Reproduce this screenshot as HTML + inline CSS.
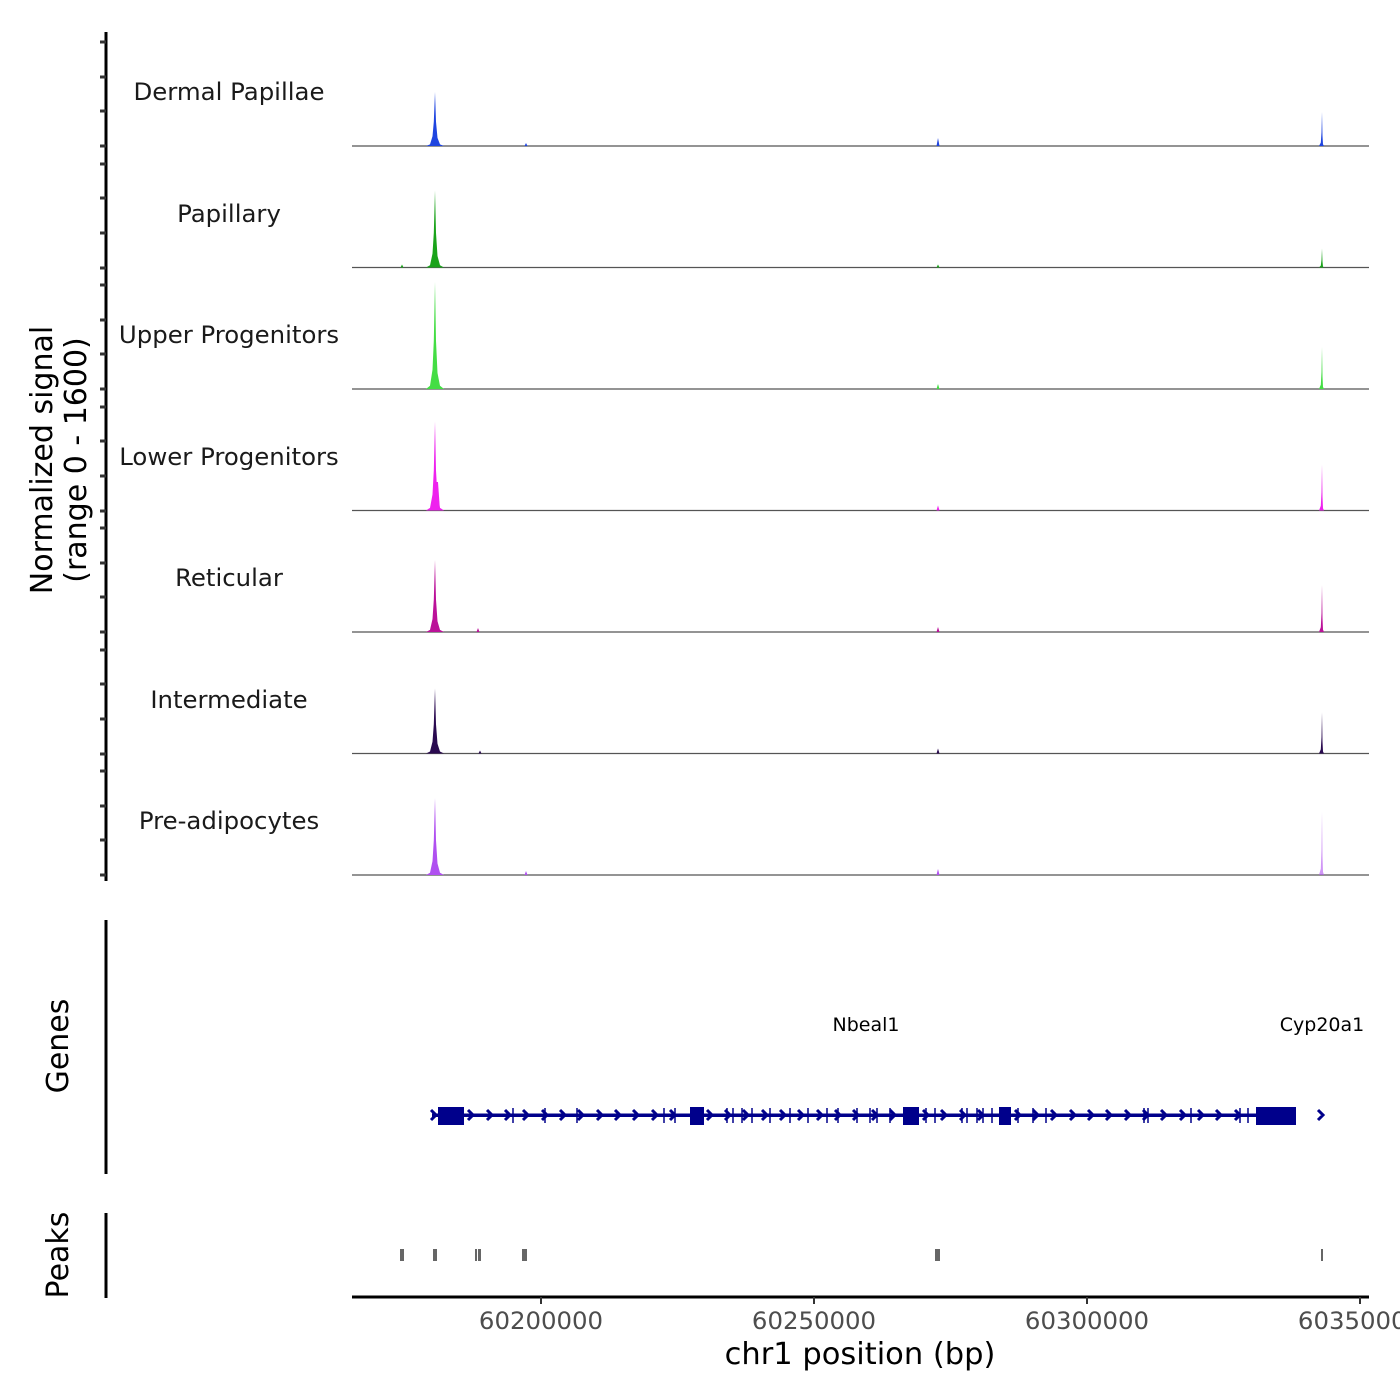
<!DOCTYPE html>
<html><head><meta charset="utf-8"><style>
html,body{margin:0;padding:0;background:#fff}
svg{display:block}
text{font-family:"DejaVu Sans","Liberation Sans",sans-serif}
</style></head><body>
<svg width="1400" height="1400" viewBox="0 0 1400 1400" xmlns="http://www.w3.org/2000/svg">
<defs>
<path id="sp" d="M-9,0 L-5,-0.03 L-2.5,-0.18 L-1.2,-0.45 L0,-1 L1,-0.45 L2.5,-0.15 L5,-0.03 L9,0Z"/>
<path id="sr" d="M-3,0 L-1.2,-0.1 L-0.5,-0.4 L0,-1 L0.5,-0.3 L1,-0.05 L2,0Z"/>
<path id="ss" d="M-1.5,0 L0,-1 L1.5,0Z"/>
</defs>
<line x1="106" y1="32" x2="106" y2="881" stroke="#000" stroke-width="3"/>
<g stroke="#333" stroke-width="3">
<path d="M100,42H106M100,77H106M100,111H106M100,146H106
M100,164H106M100,198H106M100,233H106M100,268H106
M100,285H106M100,320H106M100,354H106M100,389H106
M100,407H106M100,441H106M100,476H106M100,511H106
M100,528H106M100,563H106M100,597H106M100,632H106
M100,650H106M100,684H106M100,719H106M100,754H106
M100,771H106M100,806H106M100,840H106M100,875H106"/>
</g>
<text transform="translate(52,460) rotate(-90)" text-anchor="middle" font-size="30" fill="#000">Normalized signal</text>
<text transform="translate(86,460) rotate(-90)" text-anchor="middle" font-size="30" fill="#000">(range 0 - 1600)</text>
<g font-size="24.4" fill="#1a1a1a" text-anchor="middle">
<text x="229" y="100">Dermal Papillae</text>
<text x="229" y="222">Papillary</text>
<text x="229" y="343">Upper Progenitors</text>
<text x="229" y="465">Lower Progenitors</text>
<text x="229" y="586">Reticular</text>
<text x="229" y="708">Intermediate</text>
<text x="229" y="829">Pre-adipocytes</text>
</g>
<g stroke="#555" stroke-width="1.2">
<line x1="352" y1="146" x2="1369" y2="146"/>
<line x1="352" y1="267.5" x2="1369" y2="267.5"/>
<line x1="352" y1="389" x2="1369" y2="389"/>
<line x1="352" y1="510.5" x2="1369" y2="510.5"/>
<line x1="352" y1="632" x2="1369" y2="632"/>
<line x1="352" y1="753.5" x2="1369" y2="753.5"/>
<line x1="352" y1="875" x2="1369" y2="875"/>
</g>
<g fill="#1f45e0">
<use href="#sp" transform="translate(435,146) scale(1,54)"/>
<use href="#sr" transform="translate(1322,146) scale(1,34)"/>
<use href="#ss" transform="translate(938,146) scale(1,8)"/>
<use href="#ss" transform="translate(526,146) scale(1,3)"/>
</g>
<g fill="#1aa31a">
<use href="#sp" transform="translate(435,267.5) scale(1,77)"/>
<use href="#sr" transform="translate(1322,267.5) scale(1,19)"/>
<use href="#ss" transform="translate(938,267.5) scale(1,3)"/>
<use href="#ss" transform="translate(402,267.5) scale(1,3)"/>
</g>
<g fill="#44dd44">
<use href="#sp" transform="translate(435,389) scale(1,107)"/>
<use href="#sr" transform="translate(1322,389) scale(1,42)"/>
<use href="#ss" transform="translate(938,389) scale(1,5)"/>
</g>
<g fill="#ee22ee">
<use href="#sp" transform="translate(435,510.5) scale(1,89)"/>
<path d="M435,510.5 L436,482 L438,482 L440,510.5Z"/>
<use href="#sr" transform="translate(1322,510.5) scale(1,46)"/>
<use href="#ss" transform="translate(938,510.5) scale(1,5)"/>
</g>
<g fill="#bb1199">
<use href="#sp" transform="translate(435,632) scale(1,72)"/>
<use href="#sr" transform="translate(1322,632) scale(1,47)"/>
<use href="#ss" transform="translate(938,632) scale(1,5)"/>
<use href="#ss" transform="translate(478,632) scale(1,4)"/>
</g>
<g fill="#2a0a50">
<use href="#sp" transform="translate(435,753.5) scale(1,65)"/>
<use href="#sr" transform="translate(1322,753.5) scale(1,41)"/>
<use href="#ss" transform="translate(938,753.5) scale(1,5)"/>
<use href="#ss" transform="translate(480,753.5) scale(1,3)"/>
</g>
<g fill="#b050f0">
<use href="#sp" transform="translate(435,875) scale(1,77)"/>
<use href="#sr" transform="translate(1322,875) scale(1,63)" opacity="0.6"/>
<use href="#ss" transform="translate(938,875) scale(1,6)"/>
<use href="#ss" transform="translate(526,875) scale(1,4)"/>
</g>
<line x1="106" y1="920" x2="106" y2="1174" stroke="#000" stroke-width="3"/>
<text transform="translate(68,1046) rotate(-90)" text-anchor="middle" font-size="30" fill="#000">Genes</text>
<text x="866" y="1031" font-size="19" text-anchor="middle" fill="#000">Nbeal1</text>
<text x="1322" y="1031" font-size="19" text-anchor="middle" fill="#000">Cyp20a1</text>
<g fill="#00008b" stroke="none">
<rect x="432" y="1113.5" width="864" height="3.5"/>
<rect x="438" y="1107" width="26" height="18"/>
<rect x="690" y="1107" width="14" height="18"/>
<rect x="903" y="1107" width="16" height="18"/>
<rect x="999" y="1107" width="12" height="18"/>
<rect x="1256" y="1107" width="40" height="18"/>
</g>
<g stroke="#00008b" stroke-width="1.5">
<path d="M513,1108V1123M545,1108V1123M577,1108V1123M664,1108V1123M675,1108V1123M727,1108V1123M733,1108V1123M742,1108V1123M752,1108V1123M770,1108V1123M790,1108V1123M808,1108V1123M827,1108V1123M838,1108V1123M857,1108V1123M870,1108V1123M877,1108V1123M890,1108V1123M926,1108V1123M935,1108V1123M962,1108V1123M967,1108V1123M977,1108V1123M983,1108V1123M992,1108V1123M1018,1108V1123M1033,1108V1123M1046,1108V1123M1144,1108V1123M1148,1108V1123M1191,1108V1123M1240,1108V1123M1248,1108V1123"/>
</g>
<g fill="none" stroke="#00008b" stroke-width="3">
<path d="M431,1110l5,5l-5,5 M468,1110l5,5l-5,5 M487,1110l5,5l-5,5 M505,1110l5,5l-5,5 M523,1110l5,5l-5,5 M542,1110l5,5l-5,5 M560,1110l5,5l-5,5 M578,1110l5,5l-5,5 M597,1110l5,5l-5,5 M615,1110l5,5l-5,5 M633,1110l5,5l-5,5 M652,1110l5,5l-5,5 M670,1110l5,5l-5,5 M707,1110l5,5l-5,5 M725,1110l5,5l-5,5 M743,1110l5,5l-5,5 M762,1110l5,5l-5,5 M780,1110l5,5l-5,5 M798,1110l5,5l-5,5 M817,1110l5,5l-5,5 M835,1110l5,5l-5,5 M853,1110l5,5l-5,5 M872,1110l5,5l-5,5 M890,1110l5,5l-5,5 M923,1110l5,5l-5,5 M941,1110l5,5l-5,5 M960,1110l5,5l-5,5 M978,1110l5,5l-5,5 M1015,1110l5,5l-5,5 M1033,1110l5,5l-5,5 M1051,1110l5,5l-5,5 M1070,1110l5,5l-5,5 M1088,1110l5,5l-5,5 M1106,1110l5,5l-5,5 M1125,1110l5,5l-5,5 M1143,1110l5,5l-5,5 M1161,1110l5,5l-5,5 M1180,1110l5,5l-5,5 M1198,1110l5,5l-5,5 M1216,1110l5,5l-5,5 M1235,1110l5,5l-5,5 M1318,1110l5,5l-5,5"/>
</g>
<line x1="106" y1="1213" x2="106" y2="1298" stroke="#000" stroke-width="3"/>
<text transform="translate(68,1255) rotate(-90)" text-anchor="middle" font-size="30" fill="#000">Peaks</text>
<g fill="#666">
<rect x="400" y="1249" width="4" height="12"/>
<rect x="433" y="1249" width="4" height="12"/>
<rect x="475" y="1249" width="2" height="12"/>
<rect x="478" y="1249" width="3" height="12"/>
<rect x="522" y="1249" width="5" height="12"/>
<rect x="935" y="1249" width="5" height="12"/>
<rect x="1321" y="1249" width="2" height="12"/>
</g>
<line x1="352" y1="1297" x2="1369" y2="1297" stroke="#000" stroke-width="3"/>
<g stroke="#333" stroke-width="2">
<path d="M541,1297V1304M814,1297V1304M1087,1297V1304M1360,1297V1304"/>
</g>
<g font-size="24.4" fill="#4d4d4d" text-anchor="middle">
<text x="541" y="1329">60200000</text>
<text x="814" y="1329">60250000</text>
<text x="1087" y="1329">60300000</text>
<text x="1360" y="1329">60350000</text>
</g>
<text x="860" y="1364" font-size="30.5" text-anchor="middle" fill="#000">chr1 position (bp)</text>
</svg>
</body></html>
